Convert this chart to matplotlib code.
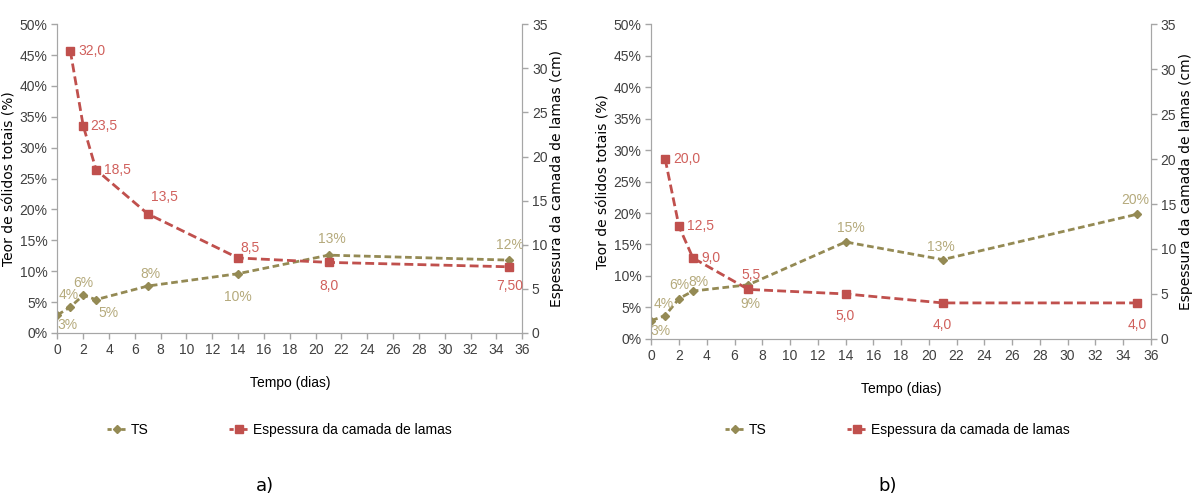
import numpy as np
import matplotlib.pyplot as plt
from matplotlib.lines import Line2D

plt.rcParams['font.family'] = ['Liberation Sans', 'DejaVu Sans']

# tempo (dias)
dias_ts = [0, 1, 2, 3, 7, 14, 21, 35]
dias_lamas = [1, 2, 3, 7, 14, 21, 35]

# ensaio a)
ts_a = [2.9, 4.2, 6.1, 5.4, 7.6, 9.6, 12.6, 11.8]
lamas_a = [32.0, 23.5, 18.5, 13.5, 8.5, 8.0, 7.5]
lamas_dec_a = [1, 1, 1, 1, 1, 1, 2]

# ensaio b)
ts_b = [2.9, 3.7, 6.4, 7.6, 8.6, 15.4, 12.6, 19.8]
lamas_b = [20.0, 12.5, 9.0, 5.5, 5.0, 4.0, 4.0]
lamas_dec_b = [1, 1, 1, 1, 1, 1, 1]

c_ts = '#948A54'
c_ts_txt = '#B5AA7C'
c_lam = '#C0504D'
c_lam_txt = '#D0605C'
c_axis = '#A6A6A6'
c_tick = '#404040'

# offsets dos rotulos (pixels) e alinhamento
off_ts_a = [(10, -10), (-2, 12), (0, 12), (12, -13), (3, 12), (0, -23), (3, 16), (1, 15)]
off_lam_a = [(8, 0, 'left'), (7, 0, 'left'), (8, 0, 'left'), (3, 17, 'left'),
             (2, 10, 'left'), (0, -24, 'center'), (0, -19, 'center')]
off_ts_b = [(9, -10), (-1, 12), (0, 14), (6, 9), (2, -19), (5, 14), (-2, 13), (-2, 14)]
off_lam_b = [(8, 0, 'left'), (8, 0, 'left'), (8, 0, 'left'), (3, 14, 'center'),
             (0, -22, 'center'), (0, -22, 'center'), (0, -22, 'center')]


def painel(ax, ts, lamas, dec, off_ts, off_lam):
    ax2 = ax.twinx()
    ax.plot(dias_ts, ts, color=c_ts, lw=2, dashes=(2.4, 1.3),
            marker='D', ms=4.5, zorder=3)
    ax2.plot(dias_lamas, lamas, color=c_lam, lw=2, dashes=(3.2, 1.5),
             marker='s', ms=6, zorder=3)

    for x, v, (dx, dy) in zip(dias_ts, ts, off_ts):
        ax.annotate(f'{v:.0f}%', (x, v), xytext=(dx, dy), textcoords='offset pixels',
                    ha='center', va='center', color=c_ts_txt, fontsize=10)
    for x, v, d, (dx, dy, ha) in zip(dias_lamas, lamas, dec, off_lam):
        ax2.annotate(f'{v:.{d}f}'.replace('.', ','), (x, v), xytext=(dx, dy),
                     textcoords='offset pixels', ha=ha, va='center',
                     color=c_lam_txt, fontsize=10)

    ax.set_xlim(0, 36)
    ax.set_ylim(0, 50)
    ax2.set_ylim(0, 35)
    ax.set_xticks(np.arange(0, 37, 2))
    ax.set_yticks(np.arange(0, 51, 5))
    ax.set_yticklabels([f'{t}%' for t in range(0, 51, 5)])
    ax2.set_yticks(np.arange(0, 36, 5))

    for a in (ax, ax2):
        for s in a.spines.values():
            s.set_color(c_axis)
        a.spines['top'].set_visible(False)
        a.tick_params(colors=c_axis, labelcolor=c_tick, labelsize=10, length=4,
                      width=1, pad=3)
    ax.set_xlabel('Tempo (dias)', fontsize=10, labelpad=14)
    ax.set_ylabel('Teor de sólidos totais (%)', family='DejaVu Sans', fontsize=10,
                  labelpad=2)
    ax2.set_ylabel('Espessura da camada de lamas (cm)', family='DejaVu Sans',
                   fontsize=10, labelpad=2)


fig = plt.figure(figsize=(11.95, 4.94), dpi=100)
ax_a = fig.add_axes([0.048, 0.326, 0.389, 0.625])
ax_b = fig.add_axes([0.545, 0.314, 0.418, 0.637])

painel(ax_a, ts_a, lamas_a, lamas_dec_a, off_ts_a, off_lam_a)
painel(ax_b, ts_b, lamas_b, lamas_dec_b, off_ts_b, off_lam_b)

handles = [
    Line2D([], [], color=c_ts, lw=2, dashes=(1.5, 1), marker='D', ms=4.5),
    Line2D([], [], color=c_lam, lw=2, dashes=(1.5, 1), marker='s', ms=6),
]
names = ['TS', 'Espessura da camada de lamas']
for x0 in (107, 725):
    fig.legend(handles, names, ncol=2, loc='center left', frameon=False,
               bbox_to_anchor=(x0 / 1195, 1 - 430 / 494), borderpad=0, borderaxespad=0,
               handlelength=1.4, handletextpad=0.3, columnspacing=5.8, fontsize=10)

fig.text(265 / 1195, 1 - 486 / 494, 'a)', ha='center', va='center', fontsize=13,
         family='DejaVu Sans')
fig.text(888 / 1195, 1 - 486 / 494, 'b)', ha='center', va='center', fontsize=13,
         family='DejaVu Sans')

fig.savefig('out.png', dpi=100)
